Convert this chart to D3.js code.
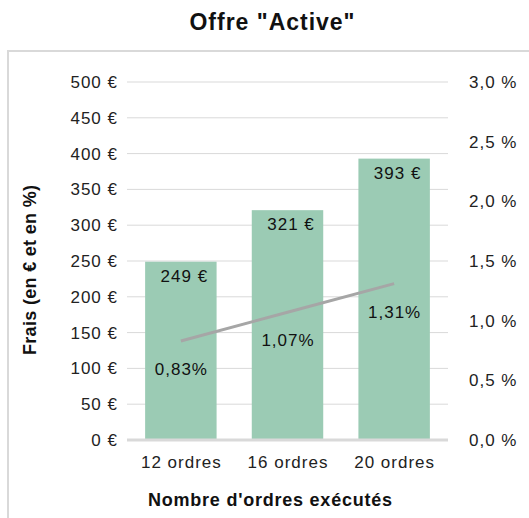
<!DOCTYPE html>
<html><head><meta charset="utf-8">
<script src="https://cdn.jsdelivr.net/npm/d3@7"></script>
<style>body{margin:0;background:#fff}svg{font-family:"Liberation Sans",Arial,sans-serif}</style>
</head><body><svg id="c" width="529" height="518"></svg>
<script>
const categories = ["12 ordres","16 ordres","20 ordres"];
const fees = [249, 321, 393];
const rates = [0.83, 1.07, 1.31];
const leftTicks = [0,50,100,150,200,250,300,350,400,450,500];
const rightTicks = [0,0.5,1.0,1.5,2.0,2.5,3.0];

const svg = d3.select("#c");
const m = {l:127, r:448, t:82, b:440};
const LS = 1, FS = 17;
svg.append("rect").attr("x",8).attr("y",51).attr("width",540).attr("height",500)
  .attr("fill","none").attr("stroke","#d9d9d9").attr("stroke-width",2);

const x = d3.scaleBand().domain(categories).range([m.l,m.r]).paddingInner(0.33).paddingOuter(0.17);
const y = d3.scaleLinear().domain([0,500]).range([m.b,m.t]);
const y2 = d3.scaleLinear().domain([0,3]).range([m.b,m.t]);
const fmt = v => d3.format(".1f")(v).replace(".",",");

svg.append("g").selectAll("line").data(leftTicks.slice(1)).join("line")
  .attr("x1",m.l).attr("x2",m.r).attr("y1",d=>y(d)).attr("y2",d=>y(d))
  .attr("stroke","#d9d9d9").attr("stroke-width",1);

svg.append("g").selectAll("text").data(leftTicks).join("text")
  .attr("x",m.l-10+LS).attr("y",d=>y(d)).attr("dy","0.35em").attr("text-anchor","end")
  .attr("font-size",FS).attr("letter-spacing",LS).attr("fill","#222").text(d=>d+" €");
svg.append("g").selectAll("text").data(rightTicks).join("text")
  .attr("x",469).attr("y",d=>y2(d)).attr("dy","0.35em").attr("text-anchor","start")
  .attr("font-size",FS).attr("letter-spacing",LS).attr("fill","#222").text(d=>fmt(d)+" %");

svg.append("g").selectAll("rect").data(fees).join("rect")
  .attr("x",(d,i)=>x(categories[i])).attr("width",x.bandwidth())
  .attr("y",d=>y(d)).attr("height",d=>m.b-y(d)).attr("fill","#9bcbb4");

svg.append("line").attr("x1",m.l).attr("x2",m.r).attr("y1",m.b).attr("y2",m.b)
  .attr("stroke","#d9d9d9").attr("stroke-width",3);

svg.append("g").selectAll("text").data(fees).join("text")
  .attr("x",(d,i)=>x(categories[i])+x.bandwidth()/2+3+LS/2).attr("y",d=>y(d)+14).attr("dy","0.35em")
  .attr("text-anchor","middle").attr("font-size",FS).attr("letter-spacing",LS).attr("fill","#111").text(d=>d+" €");

const line = d3.line().x((d,i)=>x(categories[i])+x.bandwidth()/2).y(d=>y2(d));
svg.append("path").datum(rates).attr("d",line).attr("fill","none")
  .attr("stroke","#a6a6a6").attr("stroke-width",3);

svg.append("g").selectAll("text").data(rates).join("text")
  .attr("x",(d,i)=>x(categories[i])+x.bandwidth()/2+LS/2).attr("y",d=>y2(d)+28).attr("dy","0.35em")
  .attr("text-anchor","middle").attr("font-size",FS).attr("letter-spacing",LS).attr("fill","#111")
  .text(d=>d.toFixed(2).replace(".",",")+"%");

svg.append("g").selectAll("text").data(categories).join("text")
  .attr("x",d=>x(d)+x.bandwidth()/2+LS/2).attr("y",462).attr("dy","0.35em")
  .attr("text-anchor","middle").attr("font-size",FS).attr("letter-spacing",LS).attr("fill","#222").text(d=>d);

svg.append("text").attr("x",272).attr("y",22).attr("dy","0.35em").attr("text-anchor","middle")
  .attr("font-size",23).attr("font-weight","bold").attr("fill","#111")
  .attr("textLength",165).attr("lengthAdjust","spacing").text('Offre "Active"');
svg.append("text").attr("x",270).attr("y",500).attr("dy","0.35em").attr("text-anchor","middle")
  .attr("font-size",18).attr("font-weight","bold").attr("fill","#111")
  .attr("textLength",244).attr("lengthAdjust","spacing").text("Nombre d'ordres exécutés");
svg.append("text").attr("transform","translate(30,270) rotate(-90)").attr("dy","0.35em")
  .attr("text-anchor","middle").attr("font-size",18).attr("font-weight","bold").attr("fill","#111")
  .attr("textLength",170).attr("lengthAdjust","spacing").text("Frais (en € et en %)");
</script></body></html>
